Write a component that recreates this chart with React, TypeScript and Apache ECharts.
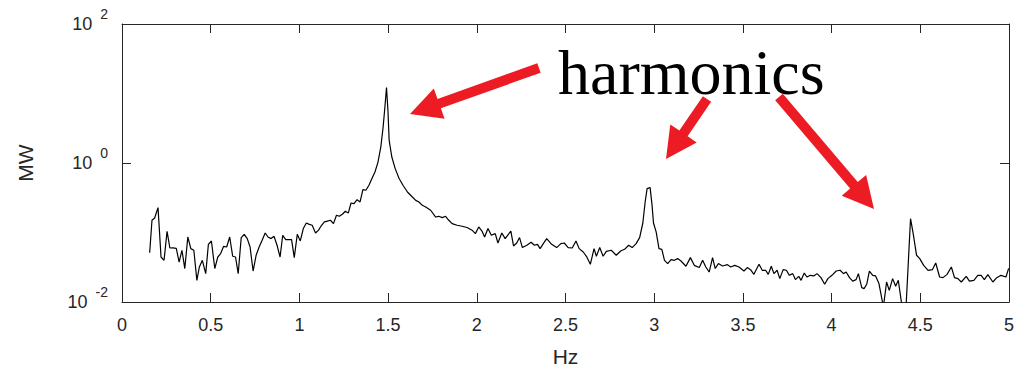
import React, { useEffect, useRef } from "react";
import * as echarts from "echarts";

// Frequency (Hz) of each spectrum sample
const freqHz = [
  0.156, 0.169, 0.184, 0.203, 0.220, 0.237, 0.254, 0.270, 0.287, 0.306,
  0.322, 0.338, 0.354, 0.371, 0.388, 0.405, 0.422, 0.436, 0.453, 0.472,
  0.487, 0.504, 0.523, 0.540, 0.556, 0.573, 0.590, 0.607, 0.624, 0.640,
  0.655, 0.672, 0.689, 0.706, 0.722, 0.739, 0.756, 0.773, 0.790, 0.807,
  0.823, 0.840, 0.857, 0.874, 0.891, 0.906, 0.923, 0.939, 0.956, 0.971,
  0.988, 1.005, 1.022, 1.039, 1.056, 1.072, 1.091, 1.108, 1.125, 1.141,
  1.158, 1.175, 1.192, 1.209, 1.225, 1.242, 1.259, 1.276, 1.291, 1.308,
  1.325, 1.342, 1.358, 1.375, 1.392, 1.409, 1.426, 1.443, 1.459, 1.472,
  1.482, 1.491, 1.499, 1.506, 1.521, 1.540, 1.562, 1.584, 1.609, 1.637,
  1.656, 1.674, 1.693, 1.712, 1.740, 1.768, 1.786, 1.805, 1.824, 1.842,
  1.861, 1.889, 1.917, 1.945, 1.973, 1.992, 2.011, 2.029, 2.044, 2.063,
  2.082, 2.104, 2.119, 2.141, 2.160, 2.192, 2.207, 2.225, 2.241, 2.257,
  2.282, 2.306, 2.325, 2.342, 2.357, 2.375, 2.394, 2.422, 2.450, 2.474,
  2.493, 2.515, 2.538, 2.559, 2.577, 2.600, 2.618, 2.640, 2.661, 2.674,
  2.693, 2.712, 2.730, 2.758, 2.786, 2.811, 2.833, 2.856, 2.876, 2.898,
  2.918, 2.936, 2.949, 2.960, 2.977, 2.988, 2.996, 3.011, 3.027, 3.043,
  3.058, 3.076, 3.095, 3.114, 3.132, 3.151, 3.179, 3.204, 3.226, 3.254,
  3.273, 3.291, 3.310, 3.329, 3.344, 3.362, 3.385, 3.413, 3.431, 3.454,
  3.478, 3.506, 3.525, 3.543, 3.562, 3.591, 3.609, 3.628, 3.643, 3.660,
  3.675, 3.693, 3.708, 3.727, 3.745, 3.762, 3.781, 3.796, 3.815, 3.828,
  3.846, 3.861, 3.880, 3.899, 3.918, 3.940, 3.961, 3.979, 4.002, 4.026,
  4.048, 4.067, 4.082, 4.101, 4.119, 4.138, 4.151, 4.170, 4.183, 4.198,
  4.213, 4.232, 4.248, 4.267, 4.292, 4.310, 4.325, 4.344, 4.361, 4.376,
  4.396, 4.418, 4.445, 4.460, 4.479, 4.497, 4.519, 4.544, 4.568, 4.587,
  4.609, 4.628, 4.651, 4.675, 4.693, 4.712, 4.731, 4.759, 4.777, 4.802,
  4.824, 4.843, 4.861, 4.881, 4.909, 4.931, 4.955, 4.983, 4.998,
];

// Power (MW) at each frequency
const powerMW = [
  0.051, 0.150, 0.162, 0.228, 0.0444, 0.0398, 0.104, 0.0598, 0.060, 0.059,
  0.0376, 0.0555, 0.0303, 0.0861, 0.0586, 0.0555, 0.0205, 0.0319, 0.0398, 0.0256,
  0.0676, 0.0755, 0.0303, 0.0444, 0.0497, 0.0633, 0.0619, 0.0861, 0.0455, 0.0444,
  0.0256, 0.0845, 0.0942, 0.0817, 0.0619, 0.0279, 0.0470, 0.0619, 0.0773, 0.0984,
  0.0861, 0.0817, 0.0881, 0.0655, 0.0444, 0.0912, 0.0791, 0.0791, 0.0791, 0.0435,
  0.0942, 0.0755, 0.114, 0.137, 0.131, 0.127, 0.0984, 0.108, 0.127, 0.142,
  0.146, 0.150, 0.134, 0.177, 0.171, 0.183, 0.202, 0.191, 0.266, 0.261,
  0.297, 0.275, 0.414, 0.405, 0.478, 0.597, 0.742, 1.03, 1.70, 3.30,
  6.40, 12.2, 5.73, 2.12, 1.22, 0.830, 0.597, 0.478, 0.383, 0.324,
  0.290, 0.275, 0.246, 0.233, 0.209, 0.167, 0.171, 0.164, 0.171, 0.150,
  0.134, 0.127, 0.123, 0.118, 0.108, 0.0964, 0.120, 0.105, 0.0861, 0.114,
  0.0912, 0.0964, 0.0706, 0.0984, 0.0817, 0.105, 0.0640, 0.0706, 0.0845, 0.0607,
  0.0655, 0.0723, 0.0655, 0.0676, 0.0586, 0.0692, 0.0817, 0.0676, 0.0607, 0.0692,
  0.0706, 0.0607, 0.0598, 0.0755, 0.0586, 0.0524, 0.0455, 0.0349, 0.0586, 0.0455,
  0.0607, 0.0455, 0.0536, 0.0555, 0.0470, 0.0542, 0.0573, 0.0655, 0.0607, 0.0692,
  0.0845, 0.137, 0.275, 0.428, 0.443, 0.246, 0.137, 0.102, 0.0586, 0.0573,
  0.0398, 0.0357, 0.0407, 0.0398, 0.0421, 0.0389, 0.0327, 0.0435, 0.0337, 0.0313,
  0.0398, 0.0319, 0.0270, 0.0435, 0.0303, 0.0357, 0.0330, 0.0345, 0.0319, 0.0337,
  0.0319, 0.0279, 0.0313, 0.0292, 0.0250, 0.0349, 0.0286, 0.0286, 0.0250, 0.0327,
  0.0256, 0.0286, 0.0217, 0.0292, 0.0286, 0.0242, 0.0256, 0.0210, 0.0234, 0.0205,
  0.0261, 0.0229, 0.0242, 0.0237, 0.0256, 0.0224, 0.0180, 0.0217, 0.0242, 0.0279,
  0.0286, 0.0256, 0.0270, 0.0224, 0.0200, 0.0210, 0.0256, 0.0161, 0.0156, 0.0180,
  0.0279, 0.0242, 0.0237, 0.0184, 0.0085, 0.0194, 0.0147, 0.0217, 0.0168, 0.0205,
  0.0090, 0.0070, 0.158, 0.0964, 0.0470, 0.0421, 0.0337, 0.0286, 0.0292, 0.0364,
  0.0229, 0.0224, 0.0250, 0.0319, 0.0224, 0.0217, 0.0194, 0.0234, 0.0200, 0.0205,
  0.0242, 0.0242, 0.0210, 0.0248, 0.0194, 0.0224, 0.0242, 0.0229, 0.0305,
];

const xAxisName = "Hz";
const yAxisName = "MW";
const annotationText = "harmonics";

export default function App() {
  const ref = useRef<HTMLDivElement>(null);

  useEffect(() => {
    if (!ref.current) return;
    const chart = echarts.init(ref.current, null, { renderer: "svg" });
    const axisColor = "#262626";
    const font = "Liberation Sans";
    const red = "#ED1C24";

    const arrow = (tail: number[], tip: number[], sw = 10, hl = 31, hw = 32) => {
      const dx = tip[0] - tail[0];
      const dy = tip[1] - tail[1];
      const len = Math.sqrt(dx * dx + dy * dy);
      const ux = dx / len, uy = dy / len;
      const nx = -uy, ny = ux;
      const bx = tip[0] - ux * hl, by = tip[1] - uy * hl;
      return {
        type: "polygon",
        silent: true,
        shape: {
          points: [
            [tail[0] + nx * sw / 2, tail[1] + ny * sw / 2],
            [bx + nx * sw / 2, by + ny * sw / 2],
            [bx + nx * hw / 2, by + ny * hw / 2],
            [tip[0], tip[1]],
            [bx - nx * hw / 2, by - ny * hw / 2],
            [bx - nx * sw / 2, by - ny * sw / 2],
            [tail[0] - nx * sw / 2, tail[1] - ny * sw / 2],
          ],
        },
        style: { fill: red },
        z: 100,
      };
    };

    const axisLine = { show: true, onZero: false, lineStyle: { color: axisColor, width: 1 } };
    const axisTick = { show: true, inside: true, length: 9, lineStyle: { color: axisColor, width: 1 } };

    chart.setOption({
      animation: false,
      backgroundColor: "#ffffff",
      grid: { left: 122, right: 4, top: 24, bottom: 74, containLabel: false },
      xAxis: [
        {
          type: "value",
          min: 0,
          max: 5,
          interval: 0.5,
          position: "bottom",
          name: xAxisName,
          nameLocation: "middle",
          nameGap: 44,
          nameTextStyle: { fontSize: 21, color: axisColor, fontFamily: font },
          axisLine,
          axisTick,
          axisLabel: { fontSize: 18, color: axisColor, fontFamily: font, margin: 14 },
          splitLine: { show: false },
        },
        {
          type: "value",
          min: 0,
          max: 5,
          interval: 0.5,
          position: "top",
          axisLine,
          axisTick,
          axisLabel: { show: false },
          splitLine: { show: false },
        },
      ],
      yAxis: [
        {
          type: "log",
          logBase: 10,
          min: 0.01,
          max: 100,
          interval: 2,
          position: "left",
          name: yAxisName,
          nameLocation: "middle",
          nameGap: 86,
          nameTextStyle: { fontSize: 21, color: axisColor, fontFamily: font },
          axisLine,
          axisTick,
          minorTick: { show: false },
          axisLabel: {
            margin: 14,
            showMinLabel: true,
            showMaxLabel: true,
            formatter: (v: number) => {
              const e = Math.round(Math.log10(v));
              return `{b|10}{e|${e}}`;
            },
            rich: {
              b: { fontSize: 18, color: axisColor, fontFamily: font },
              e: { fontSize: 14, color: axisColor, fontFamily: font, padding: [0, 0, 20, 8] },
            },
          },
          splitLine: { show: false },
        },
        {
          type: "log",
          logBase: 10,
          min: 0.01,
          max: 100,
          interval: 2,
          position: "right",
          axisLine,
          axisTick,
          axisLabel: { show: false },
          splitLine: { show: false },
        },
      ],
      series: [
        {
          type: "line",
          xAxisIndex: 0,
          yAxisIndex: 0,
          data: freqHz.map((f, i) => [f, powerMW[i]]),
          symbol: "none",
          showSymbol: false,
          clip: true,
          lineStyle: { color: "#000000", width: 1.2 },
        },
      ],
      graphic: [
        {
          type: "text",
          x: 558,
          y: 72,
          silent: true,
          style: {
            text: annotationText,
            fontSize: 64,
            fontFamily: "Liberation Serif",
            fill: "#000000",
            verticalAlign: "middle",
            align: "left",
          },
          z: 100,
        },
        arrow([539, 68], [410, 114]),
        arrow([707, 99], [666, 159]),
        arrow([779, 97], [874, 209]),
      ],
    });

    return () => chart.dispose();
  }, []);

  return (
    <div
      ref={ref}
      style={{ position: "fixed", left: 0, top: 0, width: 1017, height: 376, background: "#fff" }}
    />
  );
}
